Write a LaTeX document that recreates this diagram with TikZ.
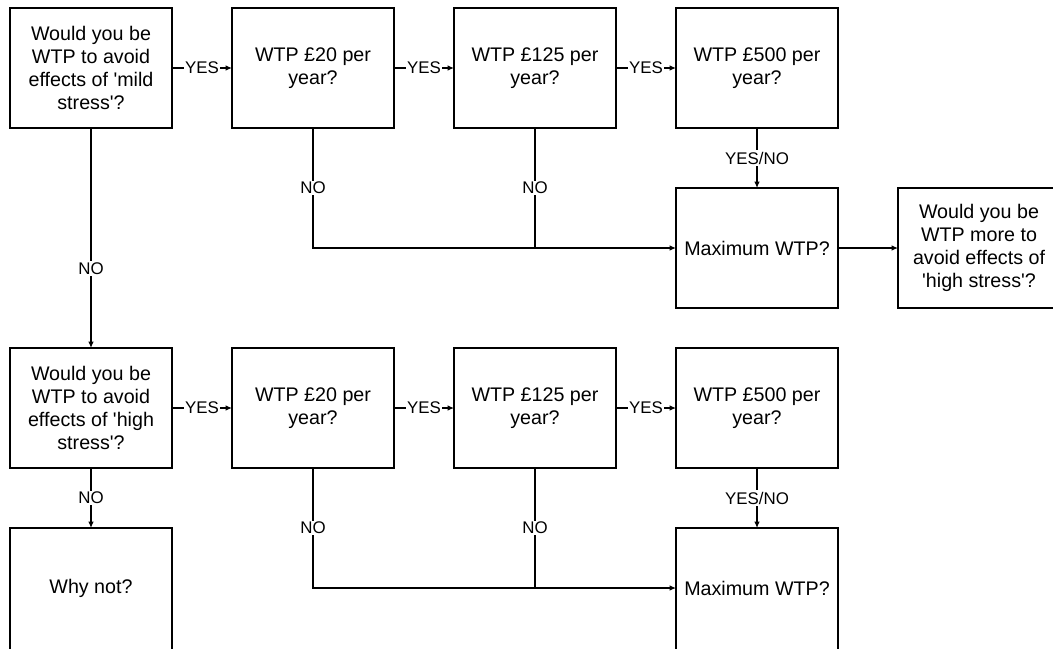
\documentclass[tikz,border=0pt]{standalone}
\usepackage{fontspec}
\setmainfont{Liberation Sans}
\usepackage{tikz}
\usetikzlibrary{arrows.meta, positioning}

\begin{document}
\begin{tikzpicture}[
    node distance=1.5cm and 1.5cm,
    box/.style={draw, rectangle, line width=1pt, outer sep=0pt, minimum height=3cm, minimum width=4.05cm, align=center, inner sep=2pt, font=\fontsize{14}{16.4}\selectfont},
    tallbox/.style={box, minimum height=3.4cm},
    lbl/.style={fill=white, inner sep=1pt, font=\fontsize{12}{14}\selectfont},
    arrow/.style={line width=1pt, -{Latex[length=4.5pt,width=4pt]}},
    link/.style={line width=1pt}
]
\useasboundingbox (0,0) rectangle (26.325,-16.225);
\clip (0,0) rectangle (26.325,-16.225);
% mild stress branch
\node[box, anchor=north west] (mild) at (0.25,-0.2) {Would you be\\WTP to avoid\\effects of \textquotesingle mild\\stress\textquotesingle?};
\node[box, right=of mild] (pa20) {WTP £20 per\\year?};
\node[box, right=of pa20] (pa125) {WTP £125 per\\year?};
\node[box, right=of pa125] (pa500) {WTP £500 per\\year?};
\node[box, below=of pa500] (maxa) {Maximum WTP?};
\node[box, right=of maxa] (more) {Would you be\\WTP more to\\avoid effects of\\\textquotesingle high stress\textquotesingle?};
% high stress branch
\node[box, below=5.5cm of mild] (high) {Would you be\\WTP to avoid\\effects of \textquotesingle high\\stress\textquotesingle?};
\node[box, right=of high] (pb20) {WTP £20 per\\year?};
\node[box, right=of pb20] (pb125) {WTP £125 per\\year?};
\node[box, right=of pb125] (pb500) {WTP £500 per\\year?};
\node[tallbox, below=of pb500] (maxb) {\raisebox{0.2cm}[\height][\depth]{Maximum WTP?}};
\node[tallbox, below=of high] (whynot) {\raisebox{0.2cm}[\height][\depth]{Why not?}};
% connectors
\foreach \a/\b in {mild/pa20,pa20/pa125,pa125/pa500,high/pb20,pb20/pb125,pb125/pb500}
  \draw[arrow] (\a) -- node[lbl] {YES} (\b);
\foreach \a/\b in {pa500/maxa,pb500/maxb}
  \draw[arrow] (\a) -- node[lbl] {YES/NO} (\b);
\draw[arrow] (pa20.south) |- node[lbl, pos=0.25] {NO} (maxa.west);
\draw[link] (pa125.south) -- node[lbl] {NO} (pa125.south |- maxa.west);
\draw[arrow] (pb20.south) |- node[lbl, pos=0.25] {NO} ([yshift=0.2cm]maxb.west) coordinate (joinb);
\draw[link] (pb125.south) -- node[lbl] {NO} (pb125.south |- joinb);
\draw[arrow] (maxa) -- (more);
\draw[arrow] (mild) -- node[lbl, pos=0.64] {NO} (high);
\draw[arrow] (high) -- node[lbl] {NO} (whynot);
\end{tikzpicture}
\end{document}
